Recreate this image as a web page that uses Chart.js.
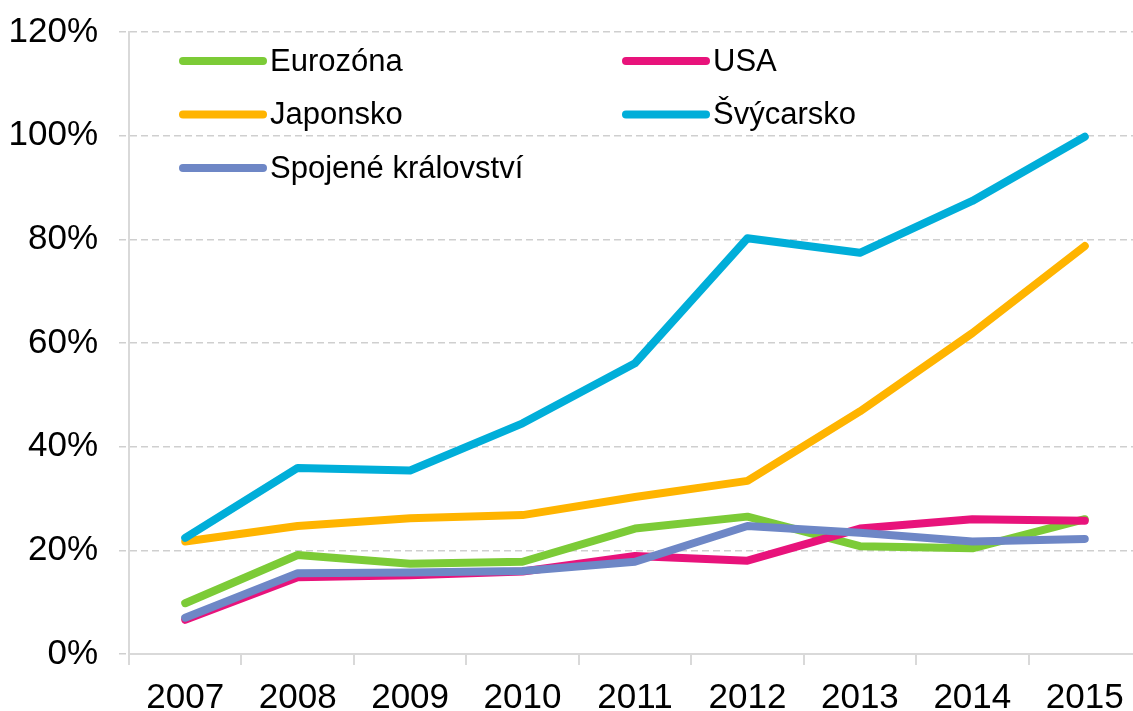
<!DOCTYPE html>
<html>
<head>
<meta charset="utf-8">
<script src="https://cdn.jsdelivr.net/npm/chart.js@4"></script>
<style>
  html, body { margin: 0; padding: 0; background: #fff; overflow: hidden; }
  #wrap { width: 1142px; height: 719px; }
</style>
</head>
<body>
<div id="wrap"><canvas id="graf" width="1142" height="719"></canvas></div>
<script>
// roky na ose X
const roky = ["2007", "2008", "2009", "2010", "2011", "2012", "2013", "2014", "2015"];

// hodnoty v %
const eurozona = [9.8, 19.1, 17.4, 17.8, 24.2, 26.5, 20.8, 20.4, 26.0];
const usa = [6.6, 14.8, 15.2, 15.9, 18.9, 18.0, 24.2, 26.0, 25.7];
const japonsko = [21.7, 24.7, 26.2, 26.8, 30.3, 33.4, 46.8, 61.9, 78.7];
const svycarsko = [22.4, 35.9, 35.4, 44.5, 56.1, 80.2, 77.4, 87.4, 99.8];
const uk = [7.0, 15.6, 15.7, 16.0, 17.8, 24.7, 23.4, 21.7, 22.2];

const osaY = [0, 20, 40, 60, 80, 100, 120];

const pismo = "'Liberation Sans', Arial, sans-serif";

// legenda ve dvou sloupcich uvnitr grafu
const legendaUvnitr = {
    id: 'legendaUvnitr',
    afterDraw(chart) {
        const ctx = chart.ctx;
        const area = chart.chartArea;
        const sloupce = [54, 497];
        chart.data.datasets.forEach((ds, i) => {
            const x = area.left + sloupce[i % 2];
            const y = area.top + 29 + Math.floor(i / 2) * 53.5;
            ctx.save();
            ctx.strokeStyle = ds.borderColor;
            ctx.lineWidth = 8;
            ctx.lineCap = 'round';
            ctx.beginPath();
            ctx.moveTo(x, y);
            ctx.lineTo(x + 80, y);
            ctx.stroke();
            ctx.fillStyle = '#000';
            ctx.font = '31px ' + pismo;
            ctx.textBaseline = 'middle';
            ctx.fillText(ds.label, x + 87, y + 1);
            ctx.restore();
        });
    }
};

function rada(nazev, data, barva, poradi) {
    return {
        label: nazev,
        data: data,
        borderColor: barva,
        backgroundColor: barva,
        borderWidth: 8,
        borderCapStyle: 'round',
        borderJoinStyle: 'round',
        pointRadius: 0,
        tension: 0,
        fill: false,
        order: poradi
    };
}

new Chart(document.getElementById('graf'), {
    type: 'line',
    data: {
        labels: roky,
        datasets: [
            rada("Eurozóna", eurozona, '#7CCB37', 5),
            rada("USA", usa, '#E8137B', 4),
            rada("Japonsko", japonsko, '#FFB400', 3),
            rada("Švýcarsko", svycarsko, '#00AED9', 2),
            rada("Spojené království", uk, '#6E87C6', 1)
        ]
    },
    options: {
        responsive: false,
        animation: false,
        layout: { padding: { top: 32, left: 9, right: 1, bottom: 0 } },
        plugins: {
            legend: { display: false },
            tooltip: { enabled: false }
        },
        scales: {
            x: {
                offset: true,
                afterFit: (axis) => { axis.height = 65; },
                grid: {
                    offset: true,
                    drawOnChartArea: false,
                    drawTicks: true,
                    tickLength: 11,
                    color: '#d9d9d9',
                    lineWidth: 2
                },
                border: { color: '#d9d9d9', width: 2 },
                ticks: {
                    color: '#000',
                    padding: 12,
                    font: { family: pismo, size: 35 },
                    maxRotation: 0
                }
            },
            y: {
                min: 0,
                max: 120,
                afterFit: (axis) => {
                    axis.width = 120;
                    axis.paddingTop = 0;
                    axis.paddingBottom = 0;
                },
                afterBuildTicks: (axis) => { axis.ticks = osaY.map(v => ({ value: v })); },
                grid: {
                    color: '#cfcfcf',
                    lineWidth: 1.5,
                    tickLength: 10,
                    tickBorderDash: [7, 4]
                },
                border: { color: '#d9d9d9', width: 2, dash: [7, 4] },
                ticks: {
                    color: '#000',
                    padding: 21,
                    font: { family: pismo, size: 35 },
                    callback: (v) => v + '%'
                }
            }
        }
    },
    plugins: [legendaUvnitr]
});
</script>
</body>
</html>
